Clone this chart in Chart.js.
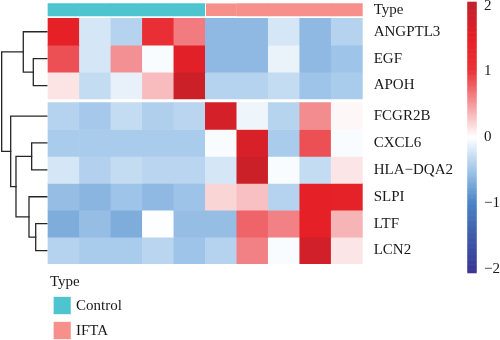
<!DOCTYPE html>
<html>
<head>
<meta charset="utf-8">
<title>Gene expression heatmap</title>
<script src="https://cdn.jsdelivr.net/npm/chart.js@4.4.1/dist/chart.umd.min.js"></script>
<style>
  html, body { margin: 0; padding: 0; background: #ffffff; }
  #wrap { width: 500px; height: 340px; }
</style>
</head>
<body>
<div id="wrap"><canvas id="heat" width="500" height="340"></canvas></div>
<script>
// ---- data ---------------------------------------------------------------
const genes = ['ANGPTL3', 'EGF', 'APOH', 'FCGR2B', 'CXCL6', 'HLA\u2212DQA2', 'SLPI', 'LTF', 'LCN2'];
const samples = ['C1', 'C2', 'C3', 'C4', 'C5', 'I1', 'I2', 'I3', 'I4', 'I5'];
const sampleType = ['Control', 'Control', 'Control', 'Control', 'Control', 'IFTA', 'IFTA', 'IFTA', 'IFTA', 'IFTA'];
const typeLevels = ['Control', 'IFTA'];

// row-scaled expression (z-scores), one array per gene, samples in order
const zANGPTL3 = [1.50, -0.22, -0.39, 1.10, 0.65, -0.60, -0.60, -0.22, -0.60, -0.39];
const zEGF     = [0.86, -0.22, 0.55, -0.03, 1.55, -0.60, -0.60, -0.11, -0.60, -0.51];
const zAPOH    = [0.14, -0.31, -0.12, 0.33, 1.86, -0.39, -0.39, -0.31, -0.51, -0.45];
const zFCGR2B  = [-0.39, -0.47, -0.31, -0.42, -0.37, 1.75, -0.09, -0.38, 0.57, 0.04];
const zCXCL6   = [-0.45, -0.45, -0.45, -0.45, -0.45, -0.03, 1.69, -0.45, 0.86, -0.03];
const zHLADQA2 = [-0.22, -0.40, -0.31, -0.37, -0.37, -0.22, 1.86, -0.03, -0.31, 0.13];
const zSLPI    = [-0.56, -0.63, -0.51, -0.60, -0.52, 0.21, 0.31, -0.39, 1.50, 1.45];
const zLTF     = [-0.70, -0.56, -0.70, -0.01, -0.56, -0.56, 0.76, 0.62, 1.50, 0.37];
const zLCN2    = [-0.39, -0.45, -0.45, -0.37, -0.51, -0.39, 0.62, -0.03, 1.79, 0.13];
const zRows = [zANGPTL3, zEGF, zAPOH, zFCGR2B, zCXCL6, zHLADQA2, zSLPI, zLTF, zLCN2];

// row dendrogram in hclust form: negative = leaf (1-based), positive = earlier merge
const rowMerge = [[-2, -3], [-1, 1], [-8, -9], [-5, -6], [-7, 3], [4, 5], [-4, 6], [2, 7]];
const rowHeight = [3.02, 5.23, 2.49, 3.38, 3.97, 6.84, 8.01, 10.0];
const rowCutAfter = 3;             // rows split into two clusters after this many

const legendTicks = [2, 1, 0, -1, -2];

// ---- styling / layout ---------------------------------------------------
const FONT = '"Liberation Serif", "Times New Roman", serif';
const TEXT = '#1a1a1a';
const TYPE_COLORS = { Control: '#4ec4cf', IFTA: '#f7908b' };
const PALETTE = [
  [-2.0, [58, 58, 150]], [-1.5, [62, 92, 170]], [-1.0, [74, 132, 196]],
  [-0.5, [160, 198, 234]], [0.0, [255, 255, 255]], [0.5, [244, 154, 157]],
  [1.0, [234, 51, 56]], [1.5, [230, 32, 39]], [2.0, [194, 32, 42]]
];
const ANNOT_H = 12.7, ANNOT_GAP = 2.3, ROW_H = 26.9, CUT_GAP = 3.6;
const X_MIN = -1.525, LEAF_X = -0.032, DENDRO_W = 1.44;
const CB = { x: 467.3, w: 9.4, top: 1.7, bottom: 272.7, min: -2.06, max: 2.06 };

function colorFor(v) {
  if (v <= PALETTE[0][0]) return 'rgb(' + PALETTE[0][1].join(',') + ')';
  for (let i = 1; i < PALETTE.length; i++) {
    const [v1, c1] = PALETTE[i];
    if (v <= v1) {
      const [v0, c0] = PALETTE[i - 1];
      const t = (v - v0) / (v1 - v0);
      const c = c0.map((a, k) => Math.round(a + (c1[k] - a) * t));
      return 'rgb(' + c.join(',') + ')';
    }
  }
  return 'rgb(' + PALETTE[PALETTE.length - 1][1].join(',') + ')';
}

const rowTop = i => ANNOT_H + ANNOT_GAP + i * ROW_H + (i >= rowCutAfter ? CUT_GAP : 0);
const rowCenter = i => rowTop(i) + ROW_H / 2;
const Y_MAX = rowTop(genes.length - 1) + ROW_H;

// ---- datasets -----------------------------------------------------------
const datasets = [];

// column annotation bar; a thin white edge where the sample type changes
datasets.push({
  type: 'bar',
  label: 'Type',
  data: samples.map((s, c) => ({ x: c + 0.5, y: [0, ANNOT_H] })),
  backgroundColor: sampleType.map(t => TYPE_COLORS[t]),
  borderColor: '#ffffff',
  borderWidth: sampleType.map((t, c) => ({ left: c > 0 && sampleType[c - 1] !== t ? 1 : 0, right: 0, top: 0, bottom: 0 })),
  borderSkipped: false
});

// heatmap cells, one dataset per gene row
zRows.forEach((vals, r) => {
  datasets.push({
    type: 'bar',
    label: genes[r],
    data: vals.map((v, c) => ({ x: c + 0.5, y: [rowTop(r), rowTop(r) + ROW_H] })),
    backgroundColor: vals.map(colorFor),
    borderWidth: 0
  });
});

// dendrogram: one elbow per merge
const nodePos = [];
function childPos(id) {
  if (id < 0) return { x: LEAF_X, y: rowCenter(-id - 1) };
  return nodePos[id - 1];
}
const maxH = Math.max(...rowHeight);
rowMerge.forEach(([a, b], m) => {
  const pa = childPos(a), pb = childPos(b);
  const xm = LEAF_X - rowHeight[m] / maxH * DENDRO_W;
  nodePos[m] = { x: xm, y: (pa.y + pb.y) / 2 };
  datasets.push({
    type: 'line',
    label: 'merge' + (m + 1),
    data: [{ x: pa.x, y: pa.y }, { x: xm, y: pa.y }, { x: xm, y: pb.y }, { x: pb.x, y: pb.y }],
    borderColor: '#262626',
    borderWidth: 1.3,
    pointRadius: 0,
    fill: false,
    tension: 0,
    borderCapStyle: 'square'
  });
});

// ---- colour key and annotation legend ----------------------------------
const legendsPlugin = {
  id: 'heatLegends',
  afterDraw(chart) {
    const ctx = chart.ctx;
    ctx.save();
    // colour key
    const steps = 160;
    const span = CB.bottom - CB.top;
    for (let i = 0; i < steps; i++) {
      const v = CB.max - (i + 0.5) / steps * (CB.max - CB.min);
      ctx.fillStyle = colorFor(v);
      ctx.fillRect(CB.x, CB.top + i * span / steps, CB.w, span / steps + 0.6);
    }
    const yOf = v => CB.top + (CB.max - v) / (CB.max - CB.min) * span;
    ctx.fillStyle = TEXT;
    ctx.font = '15px ' + FONT;
    ctx.textAlign = 'left';
    ctx.textBaseline = 'middle';
    legendTicks.forEach(t => {
      const lab = t < 0 ? '\u2212' + Math.abs(t) : String(t);
      ctx.fillText(lab, 484, yOf(t));
    });

    // annotation legend
    ctx.fillText('Type', 50, 281.7);
    typeLevels.forEach((name, i) => {
      const y0 = 296.7 + i * 25;
      ctx.fillStyle = TYPE_COLORS[name];
      ctx.fillRect(53.3, y0, 17.7, 17.7);
      ctx.strokeStyle = 'rgba(255,255,255,0.8)';
      ctx.lineWidth = 0.6;
      ctx.strokeRect(53.3, y0, 17.7, 17.7);
      ctx.fillStyle = TEXT;
      ctx.fillText(name, 76, y0 + 9);
    });
    ctx.restore();
  }
};

// ---- chart --------------------------------------------------------------
const rowLabels = ['Type'].concat(genes);
const rowTicks = [ANNOT_H / 2].concat(genes.map((g, i) => rowCenter(i)));

new Chart(document.getElementById('heat'), {
  type: 'bar',
  data: { datasets },
  plugins: [legendsPlugin],
  options: {
    responsive: false,
    animation: false,
    events: [],
    layout: { padding: { left: 0, top: 3.3, right: 0, bottom: 340 - 3.3 - Y_MAX } },
    datasets: { bar: { grouped: false, barPercentage: 1, categoryPercentage: 1 } },
    plugins: { legend: { display: false }, tooltip: { enabled: false } },
    scales: {
      x: {
        type: 'linear',
        display: false,
        offset: false,
        min: X_MIN,
        max: samples.length,
        afterBuildTicks(s) { s.ticks = samples.map((_, c) => ({ value: c })).concat([{ value: samples.length }]); }
      },
      y: {
        type: 'linear',
        position: 'right',
        reverse: true,
        min: 0,
        max: Y_MAX,
        grid: { display: false, drawTicks: false },
        border: { display: false },
        afterBuildTicks(s) { s.ticks = rowTicks.map(v => ({ value: v })); },
        afterFit(s) { s.width = 137.3; s.paddingTop = 0; s.paddingBottom = 0; },
        ticks: {
          autoSkip: false,
          padding: 11,
          color: TEXT,
          font: { family: FONT, size: 15 },
          callback: (v, i) => rowLabels[i]
        }
      }
    }
  }
});
</script>
</body>
</html>
